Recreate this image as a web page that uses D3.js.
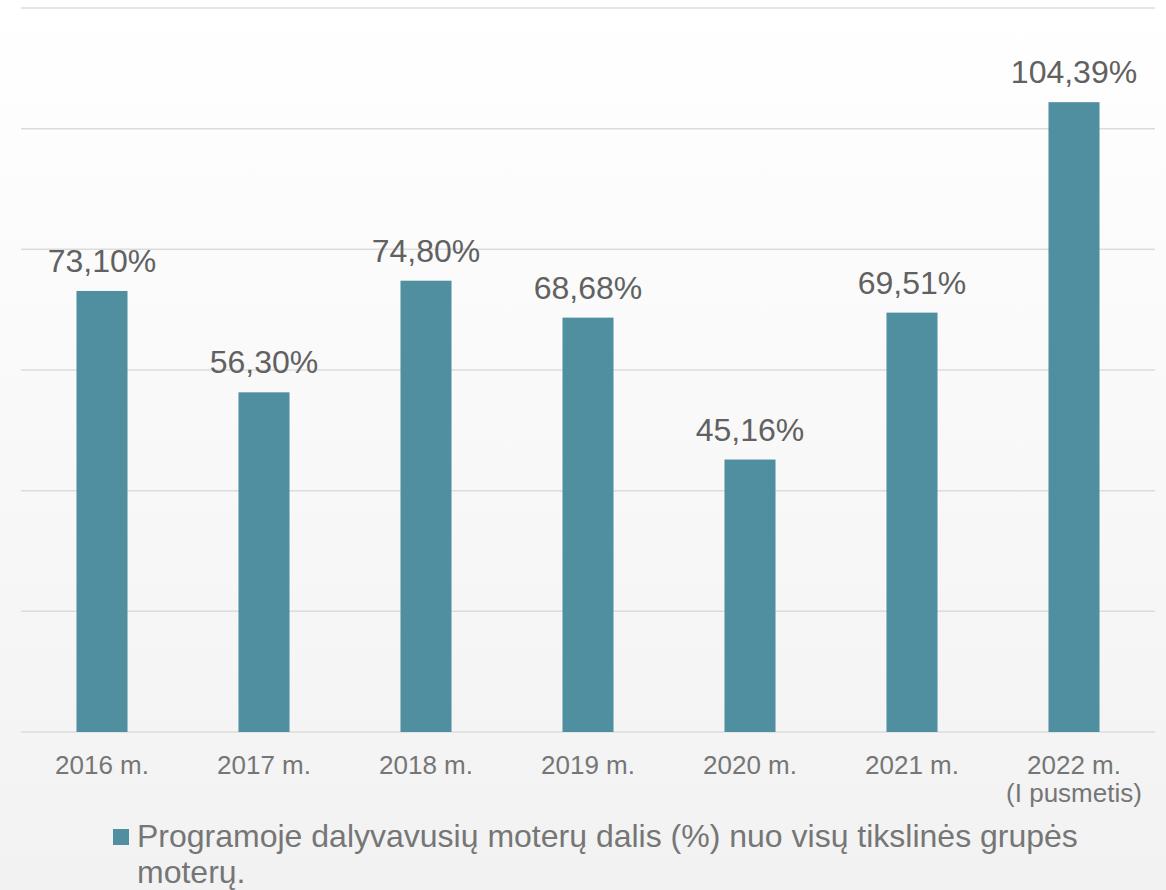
<!DOCTYPE html>
<html>
<head>
<meta charset="utf-8">
<script src="https://cdn.jsdelivr.net/npm/d3@7"></script>
<style>
  html, body { margin: 0; padding: 0; }
  body { width: 1166px; height: 890px; overflow: hidden; font-family: "Liberation Sans", Arial, sans-serif; }
</style>
</head>
<body>
<div id="chart"></div>
<script>
// categories (x axis), "\n" breaks a label into lines
var years = ["2016 m.", "2017 m.", "2018 m.", "2019 m.", "2020 m.", "2021 m.", "2022 m.\n(I pusmetis)"];

// share of women who took part, %
var shares = [73.10, 56.30, 74.80, 68.68, 45.16, 69.51, 104.39];

var gridTicks = [0, 20, 40, 60, 80, 100, 120];

var seriesName = "Programoje dalyvavusių moterų dalis (%) nuo visų tikslinės grupės moterų.";

var width = 1166,
    height = 890;

var barColor = "#4f8fa0";

var svg = d3.select("#chart")
    .append("svg")
    .attr("width", width)
    .attr("height", height);

// light vertical gradient behind everything
var grad = svg.append("defs").append("linearGradient")
    .attr("id", "bg")
    .attr("x1", 0).attr("y1", 0).attr("x2", 0).attr("y2", 1);
grad.append("stop").attr("offset", "0%").attr("stop-color", "#ffffff");
grad.append("stop").attr("offset", "100%").attr("stop-color", "#f2f2f2");

svg.append("rect")
    .attr("width", width)
    .attr("height", height)
    .attr("fill", "url(#bg)");

var x = d3.scaleBand()
    .domain(years)
    .range([21, 1155])
    .paddingInner(0.685)
    .paddingOuter(0.3425);

var y = d3.scaleLinear()
    .domain([0, 120])
    .range([732, 8]);

// gridlines
svg.append("g")
    .selectAll("line")
    .data(gridTicks)
    .enter().append("line")
    .attr("x1", 21)
    .attr("x2", 1155)
    .attr("y1", function (d) { return y(d); })
    .attr("y2", function (d) { return y(d); })
    .attr("stroke", "#dcdcdc")
    .attr("stroke-width", 1.5);

var data = years.map(function (c, i) {
    return { year: c, value: shares[i] };
});

// bars
svg.append("g")
    .selectAll("rect")
    .data(data)
    .enter().append("rect")
    .attr("x", function (d) { return x(d.year); })
    .attr("width", x.bandwidth())
    .attr("y", function (d) { return y(d.value); })
    .attr("height", function (d) { return y(0) - y(d.value); })
    .attr("fill", barColor);

// value labels
svg.append("g")
    .selectAll("text")
    .data(data)
    .enter().append("text")
    .attr("x", function (d) { return x(d.year) + x.bandwidth() / 2; })
    .attr("y", function (d) { return y(d.value) - 19; })
    .attr("text-anchor", "middle")
    .attr("fill", "#616161")
    .style("font-size", "32px")
    .text(function (d) { return d.value.toFixed(2).replace(".", ",") + "%"; });

// x axis labels
var xl = svg.append("g")
    .selectAll("text")
    .data(years)
    .enter().append("text")
    .attr("x", function (d) { return x(d) + x.bandwidth() / 2; })
    .attr("y", 774)
    .attr("text-anchor", "middle")
    .attr("fill", "#767676")
    .style("font-size", "26px");

xl.selectAll("tspan")
    .data(function (d) { return d.split("\n"); })
    .enter().append("tspan")
    .attr("x", function () { return d3.select(this.parentNode).attr("x"); })
    .attr("dy", function (d, i) { return i === 0 ? 0 : 28; })
    .text(function (d) { return d; });

// legend
var legend = svg.append("g");
legend.append("rect")
    .attr("x", 113)
    .attr("y", 829)
    .attr("width", 16)
    .attr("height", 16)
    .attr("fill", barColor);

var words = seriesName.split(" ");
var lines = [words.slice(0, 9).join(" "), words.slice(9).join(" ")];
legend.append("text")
    .attr("x", 137)
    .attr("y", 847)
    .attr("fill", "#767676")
    .style("font-size", "32px")
    .selectAll("tspan")
    .data(lines)
    .enter().append("tspan")
    .attr("x", 137)
    .attr("dy", function (d, i) { return i === 0 ? 0 : 36; })
    .text(function (d) { return d; });
</script>
</body>
</html>
